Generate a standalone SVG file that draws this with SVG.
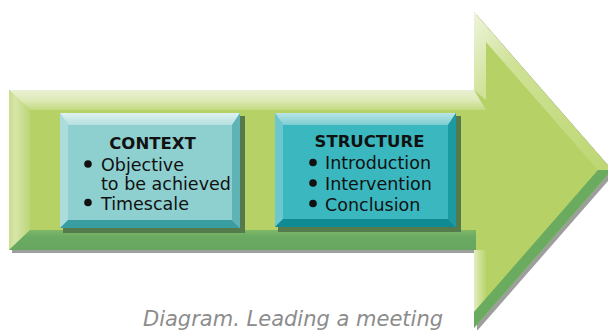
<svg xmlns="http://www.w3.org/2000/svg" width="608" height="330" viewBox="0 0 608 330">
  <style>
    .title { font-family: "DejaVu Sans", "Liberation Sans", sans-serif; font-weight: bold; font-size: 16.5px; fill: #111; text-anchor: middle; }
    .item { font-family: "DejaVu Sans", "Liberation Sans", sans-serif; font-size: 17.5px; fill: #111; }
    .caption { font-family: "DejaVu Sans", "Liberation Sans", sans-serif; font-style: italic; font-size: 21px; fill: #8c8c8c; }
    .bullet { fill: #111; }
  </style>
  <defs>
    <linearGradient id="topBevel" x1="0" y1="0" x2="0" y2="1">
      <stop offset="0" stop-color="#e9f0d4"/>
      <stop offset="0.5" stop-color="#dfeab8"/>
      <stop offset="1" stop-color="#c3d980"/>
    </linearGradient>
    <linearGradient id="leftBevel" x1="0" y1="0" x2="1" y2="0">
      <stop offset="0" stop-color="#c9dd92"/>
      <stop offset="0.3" stop-color="#d6e6a8"/>
      <stop offset="1" stop-color="#bcd578"/>
    </linearGradient>
    <linearGradient id="bottomBevel" x1="0" y1="0" x2="0" y2="1">
      <stop offset="0" stop-color="#7fb866"/>
      <stop offset="0.35" stop-color="#6aaa62"/>
      <stop offset="1" stop-color="#66a660"/>
    </linearGradient>
    <linearGradient id="headUpper" x1="0" y1="0" x2="1" y2="1">
      <stop offset="0" stop-color="#eef4dc"/>
      <stop offset="0.3" stop-color="#cfe296"/>
      <stop offset="1" stop-color="#bdd672"/>
    </linearGradient>
    <linearGradient id="headBack" x1="0" y1="0" x2="1" y2="0">
      <stop offset="0" stop-color="#e2edc0"/>
      <stop offset="1" stop-color="#b8d46b"/>
    </linearGradient>
    <linearGradient id="ctxTop" x1="0" y1="0" x2="0" y2="1">
      <stop offset="0" stop-color="#dff2f1"/>
      <stop offset="1" stop-color="#b3e0df"/>
    </linearGradient>
    <linearGradient id="strTop" x1="0" y1="0" x2="0" y2="1">
      <stop offset="0" stop-color="#b9e4e6"/>
      <stop offset="1" stop-color="#7ccdd2"/>
    </linearGradient>
  </defs>

  <!-- Arrow background -->
  <g id="arrow">
    <polygon points="12,93 477,93 477,15 615,173 477,331 477,253 12,253" fill="#9c9f9c"/>
    <polygon points="9,90 474,90 474,12 612,170 474,328 474,250 9,250" fill="#b6d166"/>
    <!-- shaft bevels -->
    <polygon points="9,90 474,90 486,110 30,110" fill="url(#topBevel)"/>
    <polygon points="9,90 30,110 30,230 9,250" fill="url(#leftBevel)"/>
    <polygon points="9,250 30,230 476,230 476,250" fill="url(#bottomBevel)"/>
    <!-- head bevels -->
    <polygon points="474,12 612,170 598,170 486,42 486,100 474,90" fill="url(#headUpper)"/>
    <polygon points="474,250 486,250 486,298 474,312" fill="url(#headBack)"/>
    <polygon points="612,170 474,328 474,312 598,170" fill="#6aab5f"/>
  </g>

  <!-- CONTEXT node -->
  <g id="context">
    <rect x="63" y="116" width="182" height="117" fill="#557a4c"/>
    <rect x="60" y="113" width="180" height="115" fill="#8ecfd0"/>
    <polygon points="60,113 240,113 232,125 68,125" fill="url(#ctxTop)"/>
    <polygon points="60,113 68,125 68,220 60,228" fill="#abdddc"/>
    <polygon points="240,113 240,228 232,220 232,125" fill="#5fb3b5"/>
    <polygon points="60,228 68,220 232,220 240,228" fill="#3a9ea1"/>
    <text class="title" x="152.5" y="149">CONTEXT</text>
    <circle class="bullet" cx="88" cy="164" r="3.8"/>
    <text class="item" x="101" y="171">Objective</text>
    <text class="item" x="101" y="189.5">to be achieved</text>
    <circle class="bullet" cx="88" cy="202.5" r="3.8"/>
    <text class="item" x="101" y="209.5">Timescale</text>
  </g>

  <!-- STRUCTURE node -->
  <g id="structure">
    <rect x="278" y="116" width="183" height="116" fill="#557a4c"/>
    <rect x="275" y="113" width="181" height="114" fill="#3bb7bf"/>
    <polygon points="275,113 456,113 448,125 283,125" fill="url(#strTop)"/>
    <polygon points="275,113 283,125 283,219 275,227" fill="#6cc8cd"/>
    <polygon points="456,113 456,227 448,219 448,125" fill="#1b9aa3"/>
    <polygon points="275,227 283,219 448,219 456,227" fill="#108a93"/>
    <text class="title" x="369.5" y="147">STRUCTURE</text>
    <circle class="bullet" cx="313" cy="162.5" r="3.8"/>
    <text class="item" x="325" y="169">Introduction</text>
    <circle class="bullet" cx="313" cy="183" r="3.8"/>
    <text class="item" x="325" y="190">Intervention</text>
    <circle class="bullet" cx="313" cy="203.5" r="3.8"/>
    <text class="item" x="325" y="211">Conclusion</text>
  </g>

  <g id="connectors"></g>

  <text class="caption" x="143" y="326">Diagram. Leading a meeting</text>
</svg>
